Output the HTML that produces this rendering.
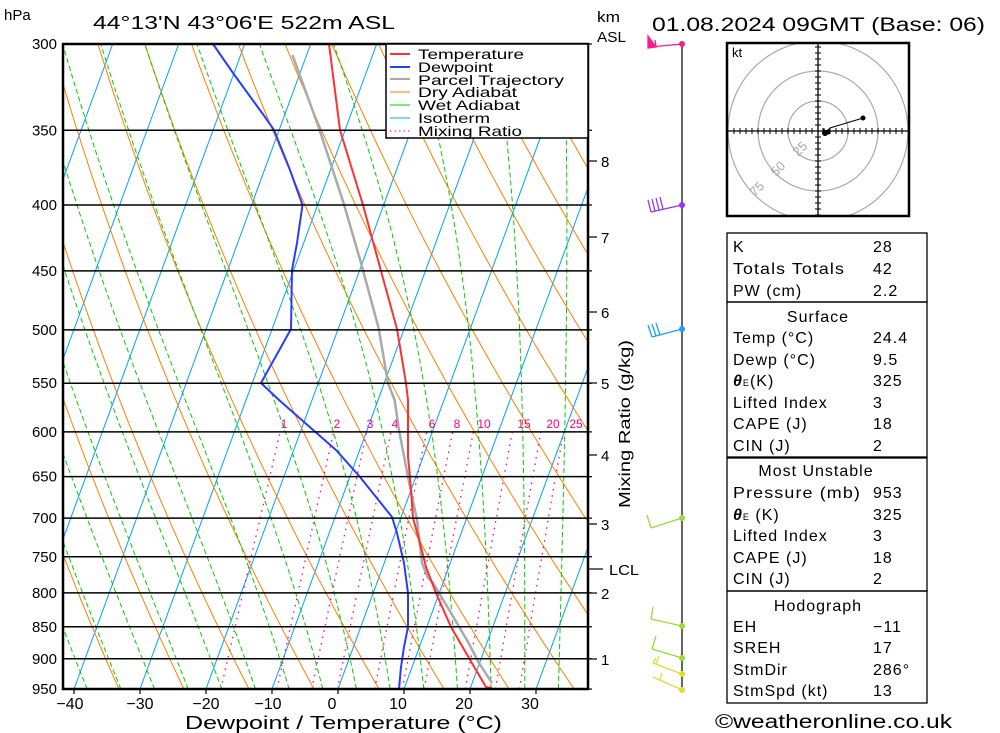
<!DOCTYPE html>
<html><head><meta charset="utf-8"><style>
html,body{margin:0;padding:0;background:#fff;}
svg{display:block;font-family:"Liberation Sans","DejaVu Sans",sans-serif;}
</style></head><body>
<svg id="s" width="1000" height="733" viewBox="0 0 1000 733" xmlns="http://www.w3.org/2000/svg">
<defs><clipPath id="pc"><rect x="63" y="44" width="525" height="645"/></clipPath>
<clipPath id="hc"><rect x="727" y="43" width="182" height="173"/></clipPath></defs>
<rect width="1000" height="733" fill="#fff"/>
<g id="grid" clip-path="url(#pc)"></g>
<g id="prof" clip-path="url(#pc)">
<polyline fill="none" stroke="#aaaaaa" stroke-width="2.5" points="292.5,55 318.6,127 343.6,203 361,263 378.6,328 388,383 394.6,400 399,430 408,477 417,520 422,563 427.5,577 433,583 451,613 468.6,643 479,663 492,683"/>
<polyline fill="none" stroke="#2a3cff" stroke-width="2" points="213,44 233,73 265,117 274,130 290,170 302.5,205 297,243 292,270 291,329 261,383 279,400 304,422 336,450 360,477 376,497 392,517 397,533 404,563 408,593 408,627 404,647 401,667 399,689"/>
<polyline fill="none" stroke="#ff3030" stroke-width="2" points="329,44 340,130 363,205 381,271 397,329 406,383 408,400 408,457 410,477 413,518 420,543 426,567 436,593 451,627 469,658 476,670 486,687 492,688"/>
</g>
<g id="plines"></g>
<rect x="63" y="44" width="525" height="645" fill="none" stroke="#000" stroke-width="2.5"/>
<g>
<rect x="386" y="44" width="202" height="94" fill="#fff" stroke="#000" stroke-width="1.5"/>
<g stroke-width="2"><line x1="390" y1="54" x2="410" y2="54" stroke="#ff3030"/><line x1="390" y1="67" x2="410" y2="67" stroke="#2a3cff"/><line x1="390" y1="79" x2="410" y2="79" stroke="#aaa"/></g>
<g stroke-width="1"><line x1="390" y1="92" x2="410" y2="92" stroke="#ff7f00"/><line x1="390" y1="105" x2="410" y2="105" stroke="#00cc00"/><line x1="390" y1="118" x2="410" y2="118" stroke="#00a0ff"/><line x1="390" y1="131" x2="410" y2="131" stroke="#ff0080" stroke-dasharray="1.5,3"/></g>
<g font-size="14" fill="#000">
<text x="418" y="59" textLength="106" lengthAdjust="spacingAndGlyphs">Temperature</text>
<text x="418" y="72" textLength="75" lengthAdjust="spacingAndGlyphs">Dewpoint</text>
<text x="418" y="85" textLength="146" lengthAdjust="spacingAndGlyphs">Parcel Trajectory</text>
<text x="418" y="97" textLength="99" lengthAdjust="spacingAndGlyphs">Dry Adiabat</text>
<text x="418" y="110" textLength="102" lengthAdjust="spacingAndGlyphs">Wet Adiabat</text>
<text x="418" y="123" textLength="72" lengthAdjust="spacingAndGlyphs">Isotherm</text>
<text x="418" y="136" textLength="104" lengthAdjust="spacingAndGlyphs">Mixing Ratio</text>
</g></g>
<text x="4" y="20" font-size="15">hPa</text>
<text x="93" y="29" font-size="18" textLength="302" lengthAdjust="spacingAndGlyphs">44°13'N 43°06'E 522m ASL</text>
<text x="597" y="22" font-size="15" textLength="23" lengthAdjust="spacingAndGlyphs">km</text>
<text x="597" y="42" font-size="15" textLength="29" lengthAdjust="spacingAndGlyphs">ASL</text>
<text x="652" y="31" font-size="19" textLength="333" lengthAdjust="spacingAndGlyphs">01.08.2024 09GMT (Base: 06)</text>
<g id="xl" font-size="16" text-anchor="middle">
<text x="70" y="709">−40</text><text x="140" y="709">−30</text><text x="206" y="709">−20</text><text x="268" y="709">−10</text><text x="332" y="709">0</text><text x="398" y="709">10</text><text x="464" y="709">20</text><text x="530" y="709">30</text>
</g>
<text x="185" y="729" font-size="18" textLength="317" lengthAdjust="spacingAndGlyphs">Dewpoint / Temperature (°C)</text>
<g font-size="15">
<text x="601" y="167">8</text><text x="601" y="243">7</text><text x="601" y="318">6</text><text x="601" y="389">5</text><text x="601" y="461">4</text><text x="601" y="530">3</text><text x="609" y="575" textLength="30" lengthAdjust="spacingAndGlyphs">LCL</text><text x="601" y="599">2</text><text x="601" y="665">1</text>
</g>
<g stroke="#000" stroke-width="1.2"><line x1="588" y1="161" x2="597" y2="161"/><line x1="588" y1="237" x2="597" y2="237"/><line x1="588" y1="312" x2="597" y2="312"/><line x1="588" y1="383" x2="597" y2="383"/><line x1="588" y1="455" x2="597" y2="455"/><line x1="588" y1="524" x2="597" y2="524"/><line x1="588" y1="569" x2="603" y2="569"/><line x1="588" y1="593" x2="597" y2="593"/><line x1="588" y1="659" x2="597" y2="659"/></g>
<text transform="translate(630,508) rotate(-90)" font-size="16" textLength="168" lengthAdjust="spacingAndGlyphs">Mixing Ratio (g/kg)</text>
<line x1="682" y1="44" x2="682" y2="690" stroke="#000" stroke-width="1.2"/>
<g stroke-width="1.3" fill="none">
<g stroke="#ff1a8c"><line x1="682" y1="44" x2="650" y2="47"/><polygon points="648,36 648,48 656,47" fill="#ff1a8c"/><line x1="656" y1="47" x2="655" y2="40"/></g>
<g stroke="#9933ee"><line x1="682" y1="205" x2="651" y2="212"/><line x1="651" y1="212" x2="648" y2="200"/><line x1="655" y1="211" x2="652" y2="199"/><line x1="659" y1="210" x2="656" y2="198"/><line x1="663" y1="209" x2="660" y2="197"/></g>
<g stroke="#1aa0ff"><line x1="682" y1="329" x2="652" y2="337"/><line x1="652" y1="337" x2="648" y2="325"/><line x1="656" y1="336" x2="652" y2="324"/><line x1="660" y1="335" x2="656" y2="323"/></g>
<g stroke="#99dd33"><line x1="682" y1="518" x2="651" y2="528"/><line x1="651" y1="528" x2="647" y2="515"/>
<line x1="682" y1="626" x2="651" y2="619"/><line x1="651" y1="619" x2="653" y2="607"/>
<line x1="682" y1="658" x2="652" y2="649"/><line x1="652" y1="649" x2="656" y2="636"/></g>
<g stroke="#dddd33"><line x1="682" y1="674" x2="653" y2="663"/><line x1="656" y1="664" x2="659" y2="656"/><line x1="653" y1="663" x2="656" y2="658"/>
<line x1="682" y1="690" x2="653" y2="677"/><line x1="660" y1="680" x2="662" y2="673"/></g>
</g>
<g><circle cx="682" cy="44" r="3" fill="#ff1a8c"/><circle cx="682" cy="205" r="3" fill="#9933ee"/><circle cx="682" cy="329" r="3" fill="#1aa0ff"/><circle cx="682" cy="518" r="3" fill="#99dd33"/><circle cx="682" cy="626" r="3" fill="#99dd33"/><circle cx="682" cy="658" r="3" fill="#99dd33"/><circle cx="682" cy="674" r="3" fill="#dddd33"/><circle cx="682" cy="690" r="3" fill="#dddd33"/></g>
<g clip-path="url(#hc)" fill="none" stroke="#aaa" stroke-width="1.2">
<circle cx="818" cy="131" r="30"/><circle cx="818" cy="131" r="60"/><circle cx="818" cy="131" r="90"/>
</g>
<g id="hod" clip-path="url(#hc)"></g>
<g fill="#aaa" font-size="13">
<text transform="translate(798,157) rotate(-45)">25</text>
<text transform="translate(776,177) rotate(-45)">50</text>
<text transform="translate(755,197) rotate(-45)">75</text>
</g>
<polyline points="825,133 830,128 863,118" fill="none" stroke="#000" stroke-width="1"/>
<circle cx="863" cy="118" r="2.5"/><polygon points="822,128 831,133 824,136" /><circle cx="825" cy="133" r="3"/><circle cx="828" cy="132" r="2.5"/>
<rect x="727" y="43" width="182" height="173" fill="none" stroke="#000" stroke-width="2.5"/>
<text x="732" y="57" font-size="13">kt</text>
<g fill="none" stroke="#000" stroke-width="1.3">
<rect x="727" y="233" width="200" height="69"/><rect x="727" y="302" width="200" height="155"/><rect x="727" y="458" width="200" height="133"/><rect x="727" y="591" width="200" height="112"/>
</g>
<g font-size="16" letter-spacing="1">
<text x="733" y="252">K</text><text x="873" y="252">28</text>
<text x="733" y="274" textLength="112" lengthAdjust="spacingAndGlyphs">Totals Totals</text><text x="873" y="274">42</text>
<text x="733" y="296">PW (cm)</text><text x="873" y="296">2.2</text>
<text x="818" y="322" text-anchor="middle">Surface</text>
<text x="733" y="343">Temp (°C)</text><text x="873" y="343">24.4</text>
<text x="733" y="365">Dewp (°C)</text><text x="873" y="365">9.5</text>
<text x="733" y="386"><tspan font-weight="bold" font-style="italic">θ</tspan><tspan font-size="9">E</tspan>(K)</text><text x="873" y="386">325</text>
<text x="733" y="408">Lifted Index</text><text x="873" y="408">3</text>
<text x="733" y="429">CAPE (J)</text><text x="873" y="429">18</text>
<text x="733" y="451">CIN (J)</text><text x="873" y="451">2</text>
<text x="816" y="476" text-anchor="middle">Most Unstable</text>
<text x="733" y="498" textLength="128" lengthAdjust="spacingAndGlyphs">Pressure (mb)</text><text x="873" y="498">953</text>
<text x="733" y="520"><tspan font-weight="bold" font-style="italic">θ</tspan><tspan font-size="9">E</tspan> (K)</text><text x="873" y="520">325</text>
<text x="733" y="541">Lifted Index</text><text x="873" y="541">3</text>
<text x="733" y="563">CAPE (J)</text><text x="873" y="563">18</text>
<text x="733" y="584">CIN (J)</text><text x="873" y="584">2</text>
<text x="818" y="611" text-anchor="middle">Hodograph</text>
<text x="733" y="632">EH</text><text x="873" y="632">−11</text>
<text x="733" y="653">SREH</text><text x="873" y="653">17</text>
<text x="733" y="675">StmDir</text><text x="873" y="675">286°</text>
<text x="733" y="696">StmSpd (kt)</text><text x="873" y="696">13</text>
</g>
<text x="715" y="728" font-size="19" textLength="237" lengthAdjust="spacingAndGlyphs">©weatheronline.co.uk</text>
<script><![CDATA[
(function(){
var NS="http://www.w3.org/2000/svg";
function Y(p){return 44+559.6*Math.log(p/300);}
function X(T,p){return 338+6.6*T+0.367*(689-Y(p));}
function el(g,n,a){var e=document.createElementNS(NS,n);for(var k in a)e.setAttribute(k,a[k]);g.appendChild(e);return e;}
var g=document.getElementById('grid');
function poly(pts,st){var s=pts.map(function(q){return q[0].toFixed(1)+','+q[1].toFixed(1);}).join(' ');var a={points:s,fill:'none'};for(var k in st)a[k]=st[k];el(g,'polyline',a);}
for(var T=-130;T<=50;T+=10){poly([[X(T,950),Y(950)],[X(T,300),Y(300)]],{stroke:'#00a0ff','stroke-width':1});}
for(var k=-14;k<=14;k++){var th=283.5+10*k,pts=[];for(var p=950;p>=290;p-=10){pts.push([X(th*Math.pow(p/1000,0.286)-273.15,p),Y(p)]);}poly(pts,{stroke:'#ff7f00','stroke-width':1});}
function es(Tc){return 6.112*Math.exp(17.67*Tc/(Tc+243.5));}
for(var k=0;k<16;k++){var Tc=-38+5.1*k,T=Tc+273.15,pts=[];for(var p=950;p>=295;p-=2){pts.push([X(T-273.15,p),Y(p)]);var e=es(T-273.15),rs=0.622*e/(p-e);var dTdp=(287*T+2.5e6*rs)/(p*(1004+2.5e6*2.5e6*rs*0.622/(287*T*T)));T-=2*dTdp;}
poly(pts,{stroke:'#00cc00','stroke-width':1,'stroke-dasharray':'5,3'});}
var ws=[1,2,3,4,6,8,10,15,20,25],lx=[284,337,370,395,432,457,484,524,553,576];
for(var i=0;i<ws.length;i++){var w=ws[i],pts=[];for(var p=950;p>=600;p-=10){var e=w*p/(622+w),l=Math.log(e/6.112),Td=243.5*l/(17.67-l);pts.push([X(Td,p),Y(p)]);}
poly(pts,{stroke:'#ff0080','stroke-width':1.3,'stroke-dasharray':'1.5,5'});
var t=el(g,'text',{x:lx[i],y:428,'font-size':12,fill:'#ff0080','text-anchor':'middle'});t.textContent=String(w);}
var pl=document.getElementById('plines');
[300,350,400,450,500,550,600,650,700,750,800,850,900,950].forEach(function(p){var y=Y(p);
el(pl,'line',{x1:63,x2:588,y1:y,y2:y,stroke:'#000','stroke-width':1.5});
el(pl,'line',{x1:588,x2:592,y1:y,y2:y,stroke:'#000','stroke-width':1.2});
var t=el(pl,'text',{x:57,y:y+5,'font-size':15,'text-anchor':'end'});t.textContent=String(p);});
[-40,-30,-20,-10,0,10,20,30].forEach(function(T){var x=X(T,950);el(pl,'line',{x1:x,x2:x,y1:689,y2:694,stroke:'#000','stroke-width':1.2});});
var h=document.getElementById('hod');
el(h,'line',{x1:727,x2:909,y1:131,y2:131,stroke:'#000','stroke-width':1.3});
el(h,'line',{x1:818,x2:818,y1:43,y2:216,stroke:'#000','stroke-width':1.3});
for(var d=-84;d<=84;d+=6){if(d==0)continue;el(h,'line',{x1:818+d,x2:818+d,y1:128,y2:134,stroke:'#000','stroke-width':1});el(h,'line',{x1:815,x2:821,y1:131+d,y2:131+d,stroke:'#000','stroke-width':1});}
})();
]]></script>
</svg>
</body></html>
